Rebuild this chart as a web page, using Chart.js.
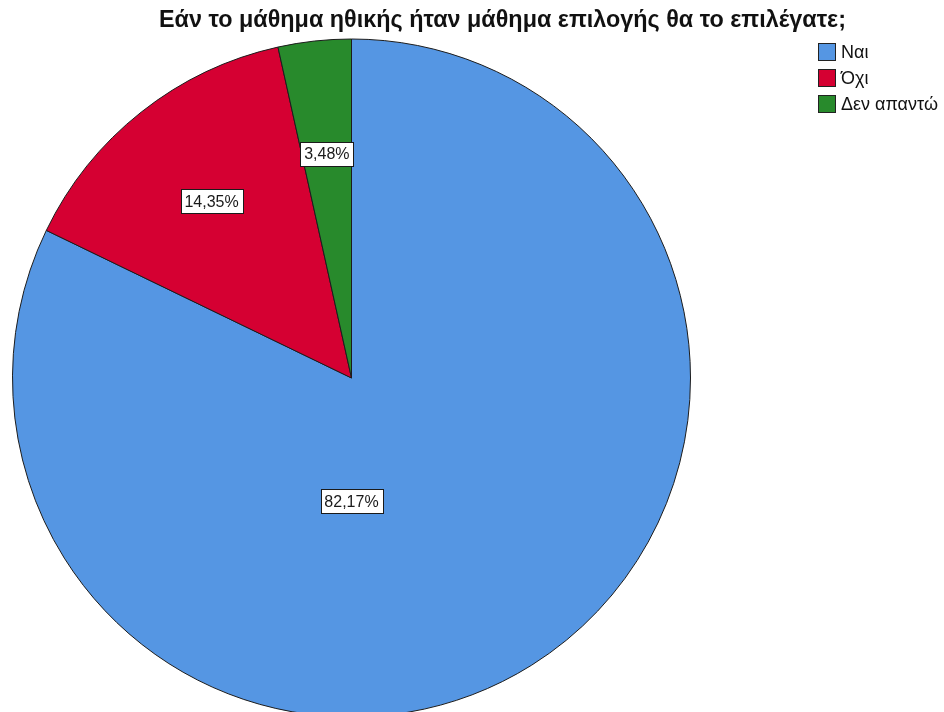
<!DOCTYPE html>
<html>
<head>
<meta charset="utf-8">
<script src="https://cdn.jsdelivr.net/npm/chart.js@4/dist/chart.umd.min.js"></script>
<style>
  html, body { margin: 0; padding: 0; background: #ffffff; overflow: hidden; }
  #wrap { width: 944px; height: 712px; position: relative; }
</style>
</head>
<body>
<div id="wrap"><canvas id="pie" width="944" height="712"></canvas></div>
<script>
// Survey answers and their shares (%)
const categories = ['Ναι', 'Όχι', 'Δεν απαντώ'];
const shares = [82.17, 14.35, 3.48];
const sliceColors = ['#5596E3', '#D50032', '#288A2C'];
const chartTitle = 'Εάν το μάθημα ηθικής ήταν μάθημα επιλογής θα το επιλέγατε;';

const FONT = '"Liberation Sans", Arial, sans-serif';

// Where each percentage label sits: angle (radians, canvas convention) and fraction of radius.
// null means the slice's mid-angle is used.
const labelAngles = [Math.PI / 2, null, null];
const labelRadii = [0.364, 0.665, 0.665];

function formatPct(v) {
  return v.toFixed(2).replace('.', ',') + '%';
}

const titlePlugin = {
  id: 'titleText',
  afterDraw(chart) {
    const ctx = chart.ctx;
    ctx.save();
    let size = 19;
    ctx.font = 'bold ' + size + 'px ' + FONT;
    const w = ctx.measureText(chartTitle).width;
    size = size * 687 / w;
    ctx.font = 'bold ' + size.toFixed(2) + 'px ' + FONT;
    ctx.fillStyle = '#111111';
    ctx.textAlign = 'left';
    ctx.textBaseline = 'alphabetic';
    ctx.fillText(chartTitle, 159, 27);
    ctx.restore();
  }
};

const legendPlugin = {
  id: 'sideLegend',
  afterDraw(chart) {
    const ctx = chart.ctx;
    const ds = chart.data.datasets[0];
    ctx.save();
    ctx.font = '18px ' + FONT;
    ctx.textBaseline = 'middle';
    ctx.textAlign = 'left';
    chart.data.labels.forEach((lab, i) => {
      const y = 43 + i * 26;
      ctx.fillStyle = ds.backgroundColor[i];
      ctx.fillRect(818.5, y + 0.5, 17, 17);
      ctx.strokeStyle = '#222222';
      ctx.lineWidth = 1;
      ctx.strokeRect(818.5, y + 0.5, 17, 17);
      ctx.fillStyle = '#111111';
      ctx.fillText(lab, 841, y + 10);
    });
    ctx.restore();
  }
};

const valueLabelPlugin = {
  id: 'valueLabels',
  afterDatasetsDraw(chart) {
    const ctx = chart.ctx;
    const meta = chart.getDatasetMeta(0);
    const values = chart.data.datasets[0].data;
    ctx.save();
    ctx.font = '16px ' + FONT;
    ctx.textAlign = 'center';
    ctx.textBaseline = 'middle';
    meta.data.forEach((arc, i) => {
      const p = arc.getProps(['x', 'y', 'startAngle', 'endAngle', 'outerRadius'], true);
      const a = labelAngles[i] !== null ? labelAngles[i] : (p.startAngle + p.endAngle) / 2;
      const r = p.outerRadius * labelRadii[i];
      const cx = p.x + Math.cos(a) * r;
      const cy = p.y + Math.sin(a) * r;
      const txt = formatPct(values[i]);
      const tw = ctx.measureText(txt).width;
      const bw = Math.round(tw + 8);
      const bh = 24;
      const bx = Math.round(cx - bw / 2) + 0.5;
      const by = Math.round(cy - bh / 2) + 0.5;
      ctx.fillStyle = '#ffffff';
      ctx.fillRect(bx, by, bw, bh);
      ctx.strokeStyle = '#1a1a1a';
      ctx.lineWidth = 1;
      ctx.strokeRect(bx, by, bw, bh);
      ctx.fillStyle = '#1a1a1a';
      ctx.fillText(txt, cx, cy + 1);
    });
    ctx.restore();
  }
};

new Chart(document.getElementById('pie'), {
  type: 'pie',
  data: {
    labels: categories,
    datasets: [{
      data: shares,
      backgroundColor: sliceColors,
      borderColor: '#1c1c1c',
      borderWidth: 1,
      hoverOffset: 0,
      offset: 0
    }]
  },
  options: {
    responsive: false,
    devicePixelRatio: 1,
    animation: false,
    radius: 339,
    layout: { padding: { left: 0, right: 241, top: 44, bottom: 0 } },
    plugins: {
      legend: { display: false },
      title: { display: false },
      tooltip: { enabled: false }
    },
    events: []
  },
  plugins: [titlePlugin, legendPlugin, valueLabelPlugin]
});
</script>
</body>
</html>
